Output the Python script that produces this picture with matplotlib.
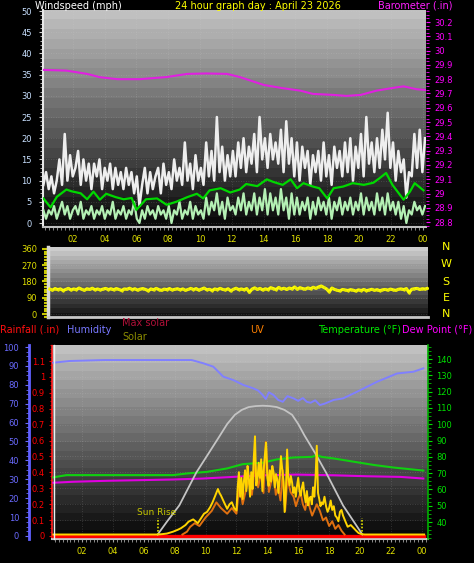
import numpy as np
import matplotlib
matplotlib.use("Agg")
import matplotlib.pyplot as plt
from matplotlib.ticker import MultipleLocator, FuncFormatter
from matplotlib.lines import Line2D

plt.rcParams['font.family'] = ['DejaVu Sans']

W, H, DPI = 474, 563, 100

# ------------------------------------------------------------------ data
title = "24 hour graph day : April 23 2026"
hour_ticks = [2, 4, 6, 8, 10, 12, 14, 16, 18, 20, 22, 24]
hour_labels = ['02', '04', '06', '08', '10', '12', '14', '16', '18', '20', '22', '00']

# wind gust (mph), 10-minute samples
gust = [9, 12, 8, 11, 7, 10,
        15, 9, 21, 10, 16, 11,
        13, 17, 9, 15, 10, 14,
        8, 14, 11, 15, 8, 13,
        10, 14, 8, 13, 9, 12,
        8, 13, 9, 12, 7, 11,
        4, 9, 13, 7, 12, 8,
        11, 13, 7, 14, 9, 12,
        8, 15, 10, 13, 9, 19,
        10, 14, 8, 16, 10, 13,
        9, 19, 11, 17, 10, 25,
        12, 18, 10, 16, 11, 17,
        11, 19, 13, 20, 12, 18,
        14, 21, 12, 25, 15, 20,
        13, 21, 15, 19, 14, 22,
        12, 24, 14, 20, 11, 19,
        10, 18, 13, 17, 9, 16,
        12, 17, 10, 19, 11, 16,
        9, 18, 13, 17, 11, 19,
        12, 20, 10, 18, 13, 21,
        11, 25, 14, 19, 12, 20,
        13, 22, 15, 26, 13, 19,
        10, 17, 12, 15, 6, 12,
        11, 21, 13, 22, 12, 20]

# wind speed (mph), 10-minute samples
wind = [3, 1, 3, 2, 4, 1,
        3, 5, 2, 4, 1, 3,
        4, 2, 5, 1, 3, 2,
        4, 1, 3, 2, 4, 1,
        3, 2, 5, 1, 3, 2,
        4, 1, 3, 2, 5, 1,
        0, 3, 1, 4, 2, 3,
        1, 4, 2, 3, 1, 4,
        0, 3, 2, 5, 1, 3,
        2, 5, 1, 4, 2, 3,
        1, 6, 2, 5, 3, 7,
        2, 5, 1, 6, 3, 4,
        2, 6, 3, 7, 2, 5,
        3, 7, 2, 6, 3, 8,
        2, 7, 3, 6, 2, 8,
        3, 6, 1, 7, 2, 6,
        2, 5, 3, 6, 1, 5,
        2, 6, 3, 5, 2, 6,
        1, 5, 3, 6, 2, 5,
        3, 6, 2, 5, 3, 7,
        2, 6, 3, 5, 2, 7,
        3, 6, 2, 7, 3, 5,
        2, 5, 1, 4, 0, 3,
        2, 5, 3, 4, 2, 4]

# wind direction (deg), 10-minute samples
wdir = [138, 132, 141, 135, 139, 130,
        136, 142, 133, 139, 135, 144,
        137, 131, 140, 136, 143, 134,
        139, 133, 138, 142, 135, 140,
        134, 141, 136, 130, 139, 137,
        143, 135, 140, 132, 138, 141,
        136, 128, 139, 134, 142, 135,
        131, 138, 135, 141, 133, 137,
        140, 134, 139, 131, 136, 142,
        135, 141, 132, 138, 144, 134,
        137, 130, 139, 135, 142, 136,
        133, 140, 128, 137, 143, 135,
        139, 134, 141, 120, 138, 145,
        136, 142, 133, 140, 135, 146,
        141, 135, 147, 138, 143, 136,
        144, 139, 150, 137, 146, 141,
        138, 145, 140, 148, 142, 150,
        155, 147, 139, 122, 144, 136,
        131, 128, 136, 133, 130, 135,
        132, 127, 134, 130, 136, 129,
        133, 137, 131, 135, 129, 134,
        136, 132, 138, 134, 131, 137,
        139, 135, 141, 118, 137, 140,
        142, 136, 140, 138, 143, 139]

avg_hours = [0.15, 0.6, 1.0, 1.6, 1.9, 2.5, 2.9, 3.3, 3.7, 4.1, 4.7, 5.2, 5.7, 6.0, 6.6, 7.3,
             7.9, 8.5, 9.2, 9.8, 10.2, 10.6, 11.3, 11.9, 12.5, 12.9, 13.6, 14.2, 14.6, 15.2,
             15.7, 16.1, 16.5, 17.1, 17.5, 18.0, 18.4, 19.0, 19.6, 20.3, 20.9, 21.3, 21.7,
             22.1, 22.8, 23.2, 23.5, 24.05]
avg_speed = [5.8, 3.7, 6.2, 7.9, 7.5, 7.0, 5.6, 7.4, 5.5, 6.9, 6.1, 5.6, 5.9, 3.1, 5.6, 5.8,
             4.3, 5.0, 6.1, 6.9, 5.8, 7.7, 8.2, 7.2, 7.9, 9.2, 8.7, 10.3, 9.7, 9.0,
             10.3, 8.2, 9.4, 8.6, 8.2, 5.8, 8.2, 8.6, 9.4, 9.0, 9.5, 10.6, 11.8,
             9.0, 5.5, 7.4, 9.4, 7.7]

baro_hours = [0.15, 1.6, 2.9, 3.7, 4.8, 6.2, 7.9, 9.2, 10.4, 11.7, 12.5, 14.0, 15.2, 16.3,
              17.1, 18.4, 19.2, 20.1, 21.1, 22.2, 22.8, 23.6, 24.15]
baro = [29.865, 29.86, 29.837, 29.814, 29.80, 29.80, 29.815, 29.837, 29.84, 29.837, 29.815,
        29.76, 29.737, 29.72, 29.697, 29.69, 29.683, 29.69, 29.72, 29.74, 29.75, 29.73, 29.725]

hum_hours = [0.14, 1.2, 3.4, 5.3, 9.1, 9.85, 10.5, 11.15, 11.8, 12.45, 13.1, 13.4, 13.7, 13.9,
             14.1, 14.4, 14.7, 15.0, 15.3, 15.7, 16.0, 16.3, 16.55, 16.8, 17.1, 17.4, 17.7,
             18.3, 18.9, 19.8, 21.1, 22.4, 23.45, 24.1]
humidity = [91.7, 92.6, 93.1, 93.1, 93.1, 91.4, 89.6, 84.3, 82.5, 79.9, 78.1, 77.0, 74.6, 72.5,
            76.0, 74.6, 72.0, 71.0, 74.0, 72.8, 71.5, 73.0, 71.0, 70.5, 71.8, 69.3, 70.0,
            72.0, 72.8, 76.3, 81.6, 86.0, 86.9, 88.7]

temp_hours = [0.14, 1.0, 3.2, 5.3, 7.9, 8.8, 10.1, 11.4, 12.4, 13.7, 14.6, 15.7, 16.9, 17.2,
              17.5, 18.3, 19.6, 20.9, 22.2, 24.1]
temperature = [67.4, 68.8, 68.8, 68.8, 68.8, 69.8, 70.8, 72.9, 75.5, 76.4, 78.4, 79.6, 80.0,
               81.1, 80.0, 79.0, 77.0, 75.0, 73.4, 71.6]

dew_hours = [0.14, 1.4, 3.6, 7.9, 9.85, 11.8, 13.7, 15.9, 18.3, 20.4, 22.6, 24.1]
dewpoint = [64.1, 64.7, 65.3, 66.1, 66.7, 67.7, 68.7, 69.1, 68.7, 68.1, 67.7, 66.7]

rain_hours = [0.15, 24.15]
rainfall = [0.0, 0.0]

sunrise, sunset = 6.9, 20.15

maxsol_hours = [6.9, 7.5, 8.3, 9.4, 10.2, 10.9, 11.4, 11.9, 12.35, 12.8, 13.25, 13.7, 14.15,
                14.6, 15.1, 15.6, 16.0, 16.4, 17.1, 17.8, 18.9, 19.6, 20.15]
max_solar = [0, 68, 154, 328, 430, 520, 585, 634, 660, 675, 680, 682, 680,
             675, 660, 634, 585, 525, 430, 328, 154, 68, 0]

solar_hours = [0.15, 6.9, 7.2, 7.5, 7.9, 8.2, 8.4, 8.7, 8.9, 9.2, 9.35, 9.5, 9.7, 9.9, 10.1,
               10.3, 10.45, 10.6, 10.8, 10.9, 11.0, 11.2, 11.4, 11.55, 11.7, 11.85, 12.0,
               12.08, 12.16, 12.24, 12.32, 12.4, 12.48, 12.56, 12.64, 12.72, 12.8, 12.88,
               12.96, 13.04, 13.12, 13.2, 13.28, 13.36, 13.44, 13.52, 13.6, 13.68, 13.76,
               13.84, 13.92, 14.0, 14.08, 14.16, 14.24, 14.32, 14.4, 14.48, 14.56, 14.64,
               14.72, 14.8, 14.88, 14.96, 15.04, 15.12, 15.2, 15.28, 15.36, 15.44, 15.52,
               15.6, 15.68, 15.76, 15.84, 15.92, 16.0, 16.08, 16.16, 16.24, 16.32, 16.4,
               16.48, 16.56, 16.64, 16.72, 16.8, 16.88, 16.96, 17.04, 17.12, 17.2, 17.28,
               17.36, 17.44, 17.52, 17.6, 17.7, 17.8, 17.9, 18.0, 18.1, 18.2, 18.3, 18.4,
               18.5, 18.6, 18.7, 18.8, 18.9, 19.0, 19.1, 19.2, 19.4, 19.6, 19.75, 19.9,
               20.1, 20.3, 24.15]
solar = [0, 0, 2, 5, 15, 25, 33, 50, 68, 80, 70, 60, 85, 110, 120,
         145, 170, 200, 241, 220, 206, 170, 136, 160, 171, 140, 127,
         250, 330, 200, 300, 188, 280, 340, 230, 363, 300, 200,
         330, 241, 400, 520, 260, 293, 380, 300, 398, 230, 340,
         420, 486, 300, 258, 340, 280, 363, 330, 250, 320, 293,
         220, 300, 415, 350, 280, 119, 230, 450, 300, 260, 310,
         276, 220, 250, 200, 258, 300, 230, 206, 250, 276, 210,
         170, 230, 154, 190, 200, 160, 250, 200, 300, 470, 220,
         188, 150, 170, 160, 200, 150, 120, 140, 180, 130, 150, 100,
         90, 70, 120, 130, 100, 80, 60, 41, 50, 33, 20, 8,
         2, 0, 0]

uv_hours = [8.5, 8.8, 9.0, 9.3, 9.6, 10.0, 10.4, 10.7, 11.0, 11.4, 11.7, 12.0, 12.2, 12.4,
            12.6, 12.8, 13.0, 13.2, 13.4, 13.6, 13.75, 13.9, 14.1, 14.25, 14.4, 14.55, 14.7,
            14.85, 15.0, 15.15, 15.3, 15.5, 15.7, 15.85, 16.0, 16.15, 16.3, 16.45, 16.6,
            16.75, 16.9, 17.05, 17.2, 17.4, 17.6, 17.8, 18.0, 18.2, 18.4, 18.6, 18.8, 19.0]
uv = [0, 0.3, 0.8, 1.2, 0.9, 1.8, 2.5, 3.4, 2.8, 2.2, 2.8, 2.2, 5.5, 3.2,
      4.6, 5.8, 4.2, 7.5, 5.0, 6.5, 4.4, 9.8, 4.5, 5.6, 6.5, 4.2, 5.0,
      3.6, 6.8, 2.5, 6.0, 4.5, 4.0, 3.0, 3.8, 4.4, 3.2, 2.6, 4.0,
      2.8, 2.0, 2.6, 3.2, 2.5, 1.5, 1.8, 0.9, 1.4, 0.6, 1.0, 0.4, 0]

t10 = np.linspace(0.15, 24.15, len(gust))   # sample times (hours)

# ------------------------------------------------------------------ helpers
def rect(l, t, r, b):
    return [l / W, 1 - b / H, (r - l) / W, (b - t) / H]


def gradient(ax, top, bottom, n=22):
    x0, x1 = ax.get_xlim()
    y0, y1 = ax.get_ylim()
    vals = np.linspace(top, bottom, n)[:, None]
    ax.imshow(vals, cmap='gray', vmin=0, vmax=1, aspect='auto',
              extent=(x0, x1, y0, y1), origin='upper', zorder=0,
              interpolation='nearest')
    ax.set_xlim(x0, x1)
    ax.set_ylim(y0, y1)


def ftext(x, y, s, color, size=7.0, ha='left', va='center'):
    fig.text(x / W, 1 - y / H, s, color=color, fontsize=size, ha=ha, va=va)


gfmt = FuncFormatter(lambda v, p: f'{round(v, 2):g}')
grid_kw = dict(color='#d8d8d8', alpha=0.22, linestyle=(0, (1, 2)), linewidth=0.6)

fig = plt.figure(figsize=(W / DPI, H / DPI), dpi=DPI, facecolor='black')

# ------------------------------------------------------------------ top panel
ax1 = fig.add_axes(rect(43, 10, 426, 227))
ax1.set_xlim(0.126, 24.21)
ax1.set_ylim(-0.94, 50.24)
gradient(ax1, 0.75, 0.04)
ax1.set_axisbelow(True)
ax1.grid(True, **grid_kw)
ax1.plot(t10, gust, color='#eeeeee', lw=1.8, zorder=3)
ax1.plot(t10, wind, color='#b4f0b4', lw=1.6, zorder=4)
ax1.plot(avg_hours, avg_speed, color='#00d800', lw=1.6, zorder=5)
ax1.set_xticks(hour_ticks, labels=hour_labels)
ax1.xaxis.set_minor_locator(MultipleLocator(0.25))
ax1.yaxis.set_major_locator(MultipleLocator(5))
ax1.yaxis.set_minor_locator(MultipleLocator(1))
ax1.tick_params(axis='x', which='both', colors='#a0a0a0', labelcolor='#e0e000',
                labelsize=6, length=2, pad=4)
ax1.tick_params(axis='y', which='major', colors='#d0d0d0', labelcolor='#c8e0ff',
                labelsize=6, length=3, pad=5)
ax1.tick_params(axis='y', which='minor', colors='#d0d0d0', length=2)
for s in ('top', 'right'):
    ax1.spines[s].set_visible(False)
ax1.spines['left'].set_color('#e8e8e8')
ax1.spines['left'].set_linewidth(1.5)
ax1.spines['bottom'].set_color('#c0c0c0')
ax1.spines['bottom'].set_linewidth(1.5)

ax1b = ax1.twinx()
ax1b.set_ylim(28.766, 30.284)
ax1b.plot(baro_hours, baro, color='#e020e0', lw=1.5)
ax1b.yaxis.set_major_locator(MultipleLocator(0.1))
ax1b.yaxis.set_minor_locator(MultipleLocator(0.025))
ax1b.yaxis.set_major_formatter(gfmt)
ax1b.tick_params(axis='y', which='major', colors='#ff00ff', labelsize=6, length=3, pad=3)
ax1b.tick_params(axis='y', which='minor', colors='#ff00ff', length=2)
for s in ax1b.spines.values():
    s.set_visible(False)

# ------------------------------------------------------------------ middle panel
ax2 = fig.add_axes(rect(48, 247, 428, 317))
ax2.set_xlim(0.04, 24.0)
ax2.set_ylim(-16.6, 371)
gradient(ax2, 0.80, 0.08, n=16)
ax2.set_axisbelow(True)
ax2.yaxis.grid(True, **grid_kw)
ax2.plot(t10, wdir, color='#ffff00', lw=2.2, zorder=3)
ax2.scatter(t10, wdir, s=3, color='#e8e800', zorder=4, linewidths=0)
ax2.set_xticks([])
ax2.set_yticks([0, 90, 180, 270, 360])
ax2.yaxis.set_minor_locator(MultipleLocator(15))
ax2.tick_params(axis='y', which='major', colors='#c8c800', labelcolor='#e0e000',
                labelsize=6, length=4, width=1.5, pad=4)
ax2.tick_params(axis='y', which='minor', colors='#c8c800', length=3, width=1.5)
for s in ('top', 'right'):
    ax2.spines[s].set_visible(False)
ax2.spines['left'].set_color('#d8d8d8')
ax2.spines['left'].set_linewidth(2.5)
ax2.spines['bottom'].set_color('#c8c8c8')
ax2.spines['bottom'].set_linewidth(2)
for lab, yy in zip(['N', 'W', 'S', 'E', 'N'], [247, 264, 282, 298, 314]):
    ftext(446, yy, lab, '#ffff00', size=8, ha='center')

# ------------------------------------------------------------------ bottom panel
r3 = rect(52, 345, 428, 539)
ax3 = fig.add_axes(r3)
ax3.set_xlim(0.06, 24.4)
ax3.set_ylim(-0.0189, 1.201)
gradient(ax3, 0.75, 0.03)
ax3.set_axisbelow(True)
ax3.grid(True, **grid_kw)
ax3.plot(rain_hours, rainfall, color='#ff0000', lw=2.4, zorder=3)
ax3.set_xticks(hour_ticks, labels=hour_labels)
ax3.xaxis.set_minor_locator(MultipleLocator(0.25))
ax3.yaxis.set_minor_locator(MultipleLocator(0.025))
ax3.yaxis.set_major_formatter(gfmt)
ax3.set_yticks(np.arange(0, 1.15, 0.1))
ax3.tick_params(axis='x', which='both', colors='#a0a0a0', labelcolor='#e0e000',
                labelsize=6, length=2, pad=4)
ax3.tick_params(axis='y', which='major', colors='#ff0000', labelsize=6, length=2, pad=3)
ax3.tick_params(axis='y', which='minor', colors='#ff0000', length=1.5)
for s in ('top', 'right'):
    ax3.spines[s].set_visible(False)
ax3.spines['left'].set_color('#ff2020')
ax3.spines['left'].set_linestyle((0, (2, 1)))
ax3.spines['left'].set_linewidth(1.2)
ax3.spines['bottom'].set_color('#c8c8c8')
ax3.spines['bottom'].set_linewidth(1.5)
fig.add_artist(Line2D([53.5 / W, 53.5 / W], [1 - 539 / H, 1 - 345 / H],
                      color='#f0f0f0', lw=1.0))

# humidity axis
axh = fig.add_axes(r3, sharex=ax3)
axh.patch.set_visible(False)
axh.set_ylim(-1.59, 101.06)
axh.plot(hum_hours, humidity, color='#8080ff', lw=1.4)
for s in ('top', 'right', 'bottom'):
    axh.spines[s].set_visible(False)
axh.spines['left'].set_position(('outward', 16.6))
axh.spines['left'].set_color('#6060ff')
axh.spines['left'].set_linewidth(2)
axh.yaxis.set_major_locator(MultipleLocator(10))
axh.yaxis.set_minor_locator(MultipleLocator(2.5))
axh.tick_params(axis='y', which='major', colors='#6a6aff', labelsize=6, length=3, pad=4)
axh.tick_params(axis='y', which='minor', colors='#6a6aff', length=2)
axh.xaxis.set_visible(False)

# temperature / dew point axis
axt = fig.add_axes(r3, sharex=ax3)
axt.patch.set_visible(False)
axt.set_ylim(29.6, 148.6)
axt.plot(temp_hours, temperature, color='#10d010', lw=1.5)
axt.plot(dew_hours, dewpoint, color='#e000e0', lw=1.5)
axt.yaxis.tick_right()
for s in ('top', 'left', 'bottom'):
    axt.spines[s].set_visible(False)
axt.spines['right'].set_color('#00b000')
axt.spines['right'].set_linewidth(1.2)
axt.yaxis.set_minor_locator(MultipleLocator(2.5))
axt.set_yticks(np.arange(40, 141, 10))
axt.tick_params(axis='y', which='major', colors='#00e000', labelsize=6, length=3, pad=3)
axt.tick_params(axis='y', which='minor', colors='#00c000', length=2)
axt.xaxis.set_visible(False)

# UV (hidden scale)
axu = fig.add_axes(r3, sharex=ax3)
axu.patch.set_visible(False)
axu.set_ylim(-0.477, 20.07)
axu.plot(uv_hours, uv, color='#e07010', lw=1.4)
axu.axis('off')

# solar (hidden scale)
axs = fig.add_axes(r3, sharex=ax3)
axs.patch.set_visible(False)
axs.set_ylim(-23.8, 1003.4)
axs.plot(maxsol_hours, max_solar, color='#c4c4c4', lw=1.3)
axs.plot(solar_hours, solar, color='#ffd400', lw=1.4)
axs.plot([sunrise, sunrise], [0, 90], color='#e0e000', lw=1.2, ls=(0, (1, 1)))
axs.plot([sunset, sunset], [0, 90], color='#e0e000', lw=1.2, ls=(0, (1, 1)))
axs.text(sunrise - 0.05, 95, 'Sun Rise', color='#c8c800', fontsize=6.5,
         ha='center', va='bottom')
axs.axis('off')

# ------------------------------------------------------------------ texts
ftext(35, 6, 'Windspeed (mph)', '#ffffff')
ftext(175, 6, title, '#ffff00')
ftext(378, 6, 'Barometer (.in)', '#ff20ff')

ftext(0, 330, 'Rainfall (.in)', '#ff1010')
ftext(67, 330, 'Humidity', '#7878ff')
ftext(122, 323, 'Max solar', '#b01038')
ftext(122, 337, 'Solar', '#8c8c00')
ftext(250, 330, 'UV', '#ff8000')
ftext(318, 330, 'Temperature (°F)', '#00e800')
ftext(402, 330, 'Dew Point (°F)', '#ff00ff')

fig.savefig('out.png', dpi=DPI, facecolor='black')
